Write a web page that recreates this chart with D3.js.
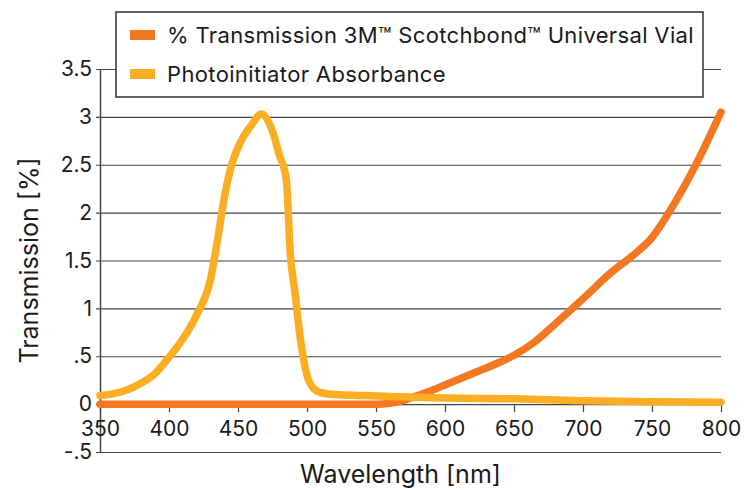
<!DOCTYPE html>
<html>
<head>
<meta charset="utf-8">
<script src="https://cdn.jsdelivr.net/npm/d3@7"></script>
<style>
  body { margin: 0; background: #fff; }
  svg text { font-family: Inter, "Noto Sans", sans-serif; fill: #1a1a1a; }
</style>
</head>
<body>
<svg id="chart" width="744" height="490"></svg>
<script>
// series
const wavelength = [350, 360, 370, 380, 390, 400, 410, 420, 430, 435, 440, 445, 450, 460, 467, 475, 480, 485, 488, 491, 495, 500, 505, 510, 520, 540, 560, 600, 650, 700, 750, 800];
const absorbance = [0.09, 0.11, 0.15, 0.22, 0.32, 0.49, 0.68, 0.93, 1.3, 1.7, 2.15, 2.48, 2.68, 2.92, 3.03, 2.85, 2.6, 2.35, 1.55, 1.2, 0.7, 0.3, 0.16, 0.12, 0.1, 0.09, 0.08, 0.065, 0.055, 0.035, 0.025, 0.02];

const transWavelength = [350, 400, 450, 500, 550, 560, 570, 580, 590, 600, 620, 640, 650, 665, 680, 700, 720, 740, 750, 760, 780, 800];
const transmission = [0, 0, 0, 0, 0, 0.01, 0.04, 0.09, 0.14, 0.2, 0.32, 0.44, 0.51, 0.65, 0.84, 1.1, 1.37, 1.6, 1.74, 1.95, 2.45, 3.05];

const xTicks = [350, 400, 450, 500, 550, 600, 650, 700, 750, 800];
const yTicks = [-0.5, 0, 0.5, 1, 1.5, 2, 2.5, 3, 3.5];
const legendLabels = ['% Transmission 3M™ Scotchbond™ Universal Vial', 'Photoinitiator Absorbance'];

const orange = '#f47721';
const yellow = '#fbad23';

const margin = { left: 100, right: 23, top: 69, bottom: 38 };
const svg = d3.select('#chart');
const width = 744 - margin.left - margin.right;
const height = 490 - margin.top - margin.bottom;

const x = d3.scaleLinear().domain([350, 800]).range([0, width]);
const y = d3.scaleLinear().domain([-0.5, 3.5]).range([height, 0]);

const g = svg.append('g').attr('transform', `translate(${margin.left},${margin.top})`);

const fmt = d => String(d).replace('0.', '.');

// y axis with gridlines
const yAxis = g.append('g')
    .call(d3.axisLeft(y).tickValues(yTicks).tickSizeInner(-width).tickSizeOuter(0).tickPadding(8).tickFormat(fmt));
yAxis.select('.domain').attr('stroke', '#444').attr('stroke-width', 1.5);
yAxis.selectAll('.tick line').attr('x1', -4).attr('stroke', '#444').attr('stroke-width', 1.2);
yAxis.selectAll('.tick text').attr('font-size', 21).attr('fill', '#1a1a1a');

// x axis on the zero line
const xAxis = g.append('g')
    .attr('transform', `translate(0,${y(0)})`)
    .call(d3.axisBottom(x).tickValues(xTicks).tickSizeInner(8).tickSizeOuter(0).tickPadding(9));
xAxis.select('.domain').remove();
xAxis.selectAll('.tick line').attr('stroke', '#444').attr('stroke-width', 1.2);
xAxis.selectAll('.tick text').attr('font-size', 21).attr('fill', '#1a1a1a');

// lines
const line = d3.line().x(d => x(d[0])).y(d => y(d[1])).curve(d3.curveMonotoneX);

g.append('path')
    .datum(transWavelength.map((w, i) => [w, transmission[i]]))
    .attr('d', line)
    .attr('fill', 'none')
    .attr('stroke', orange)
    .attr('stroke-width', 7.5)
    .attr('stroke-linecap', 'round')
    .attr('stroke-linejoin', 'round');

g.append('path')
    .datum(wavelength.map((w, i) => [w, absorbance[i]]))
    .attr('d', line)
    .attr('fill', 'none')
    .attr('stroke', yellow)
    .attr('stroke-width', 7.5)
    .attr('stroke-linecap', 'round')
    .attr('stroke-linejoin', 'round');

// axis titles
svg.append('text')
    .attr('x', margin.left + width / 2 - 10)
    .attr('y', 483)
    .attr('text-anchor', 'middle')
    .attr('font-size', 25)
    .text('Wavelength [nm]');

svg.append('text')
    .attr('transform', `translate(38,${margin.top + y(1.5)}) rotate(-90)`)
    .attr('text-anchor', 'middle')
    .attr('font-size', 25)
    .text('Transmission [%]');

// legend
const legend = svg.append('g').attr('transform', 'translate(116,12)');
legend.append('rect')
    .attr('width', 587).attr('height', 85)
    .attr('fill', '#fff').attr('stroke', '#333').attr('stroke-width', 1.5);
const items = legend.selectAll('.item')
    .data(legendLabels)
    .join('g')
    .attr('transform', (d, i) => `translate(0,${23 + i * 39})`);
items.append('rect')
    .attr('x', 14).attr('y', -5).attr('width', 25).attr('height', 10)
    .attr('fill', (d, i) => i === 0 ? orange : yellow);
items.append('text')
    .attr('x', 51).attr('dy', '0.36em')
    .attr('font-size', 22)
    .attr('letter-spacing', 0.35)
    .text(d => d);
</script>
</body>
</html>
